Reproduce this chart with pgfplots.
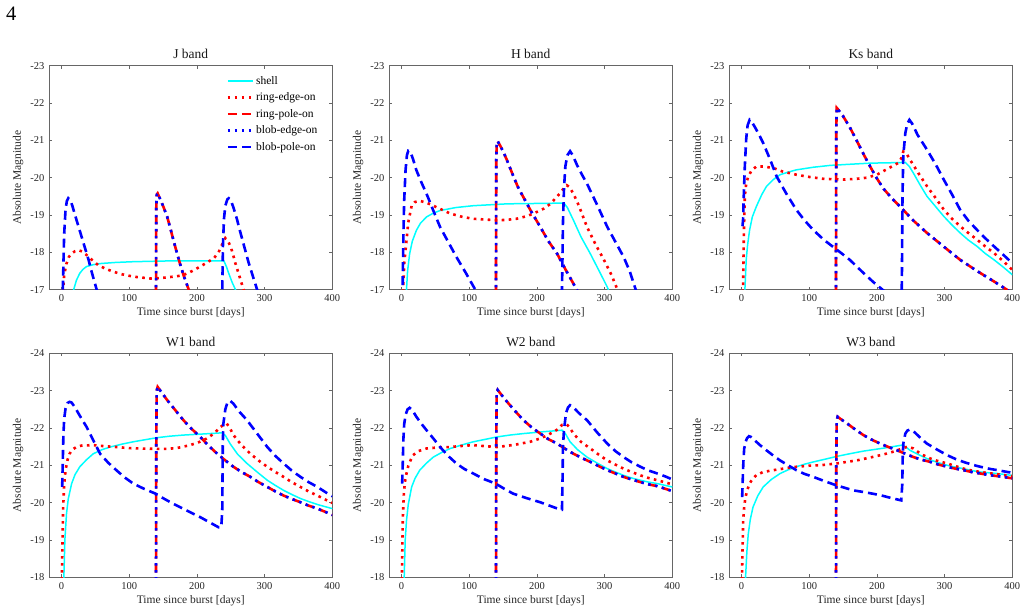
\documentclass[border=0pt]{standalone}
\usepackage{fontspec}
\setmainfont{Liberation Serif}
\usepackage{pgfplots}
\usepackage{pgfplotstable}
\pgfplotsset{compat=1.18}
\definecolor{cy}{rgb}{0,1,1}
\definecolor{rd}{rgb}{1,0,0}
\definecolor{bl}{rgb}{0,0,1}

% ---------------- J band ----------------
\pgfplotstableread[row sep=\\]{t m\\ 15 -16.5\\ 18 -17\\ 22 -17.25\\ 27 -17.44\\ 32 -17.55\\ 37 -17.62\\ 47 -17.67\\ 57 -17.7\\ 80 -17.73\\ 106 -17.75\\ 156 -17.77\\ 200 -17.77\\ 240 -17.77\\ 244 -17.6\\ 247 -17.44\\ 252 -17.2\\ 257 -17\\ 262 -16.7\\}\Jshell
\pgfplotstableread[row sep=\\]{t m\\ 1 -16\\ 2.5 -17\\ 4 -17.4\\ 7.4 -17.7\\ 11 -17.88\\ 15 -17.97\\ 20 -18.03\\ 25 -18.06\\ 31 -18.02\\ 37 -17.93\\ 45 -17.8\\ 54 -17.66\\ 65 -17.56\\ 77 -17.48\\ 90 -17.41\\ 106 -17.35\\ 131 -17.3\\ 145 -17.31\\ 156 -17.33\\ 170 -17.36\\ 180 -17.39\\ 193 -17.5\\ 205 -17.62\\ 215 -17.73\\ 225 -17.84\\ 232 -18.0\\ 237 -18.2\\ 242 -18.38\\ 246 -18.3\\ 250 -18.15\\ 254 -17.9\\ 257 -17.7\\ 263 -17.35\\ 269 -17\\ 275 -16.6\\}\Jring
\pgfplotstableread[row sep=\\]{t m\\ 139.3 -15\\ 140 -19.2\\ 140.8 -19.55\\ 142 -19.58\\ 146 -19.42\\ 151 -19.2\\ 156 -18.96\\ 160 -18.7\\ 165 -18.35\\ 170 -18.02\\ 175 -17.7\\ 181 -17.35\\ 188 -17\\ 195 -16.6\\}\Jpole
\pgfplotstableread[row sep=\\]{t m\\ 1 -15.5\\ 2 -17\\ 3 -17.8\\ 4 -18.5\\ 6 -19.15\\ 8 -19.38\\ 10 -19.45\\ 13 -19.4\\ 16 -19.25\\ 20 -19.0\\ 25 -18.7\\ 30 -18.4\\ 35 -18.1\\ 40 -17.8\\ 45 -17.45\\ 52 -17\\ 58 -16.6\\ 236 -16\\ 237.5 -17\\ 238.5 -18.2\\ 240 -18.9\\ 242 -19.25\\ 245 -19.42\\ 247 -19.45\\ 250 -19.4\\ 254 -19.2\\ 259 -18.9\\ 264 -18.55\\ 270 -18.15\\ 276 -17.75\\ 282 -17.4\\ 289 -17\\ 295 -16.6\\}\Jblob

% ---------------- H band ----------------
\pgfplotstableread[row sep=\\]{t m\\ 6 -16.5\\ 7.4 -17\\ 9 -17.5\\ 12 -17.96\\ 16 -18.3\\ 22 -18.59\\ 28 -18.78\\ 37 -18.95\\ 47 -19.05\\ 57 -19.12\\ 80 -19.2\\ 106 -19.25\\ 156 -19.3\\ 200 -19.31\\ 240 -19.32\\ 245 -19.2\\ 254 -18.86\\ 265 -18.42\\ 279 -17.96\\ 292 -17.5\\ 304 -17.07\\ 310 -16.8\\}\Hshell
\pgfplotstableread[row sep=\\]{t m\\ 1.5 -16\\ 2.5 -17\\ 4 -17.7\\ 7.4 -18.32\\ 10 -18.8\\ 15 -19.25\\ 20 -19.35\\ 27 -19.38\\ 37 -19.33\\ 47 -19.25\\ 60 -19.14\\ 72 -19.04\\ 90 -18.95\\ 106 -18.9\\ 141 -18.86\\ 155 -18.87\\ 170 -18.9\\ 185 -18.97\\ 195 -19.04\\ 210 -19.17\\ 220 -19.3\\ 230 -19.5\\ 235 -19.6\\ 241 -19.75\\ 244 -19.8\\ 248 -19.75\\ 254 -19.57\\ 262 -19.25\\ 274 -18.68\\ 287 -18.2\\ 299 -17.8\\ 310 -17.4\\ 319 -17\\ 325 -16.7\\}\Hring
\pgfplotstableread[row sep=\\]{t m\\ 139.3 -15\\ 140 -20.5\\ 140.8 -20.95\\ 142 -20.98\\ 146 -20.85\\ 151 -20.67\\ 156 -20.46\\ 165 -20.05\\ 172 -19.75\\ 180 -19.48\\ 192 -19.08\\ 205 -18.68\\ 217 -18.3\\ 230 -17.96\\ 242 -17.55\\ 254 -17.16\\ 259 -17\\ 265 -16.8\\}\Hpole
\pgfplotstableread[row sep=\\]{t m\\ 1 -16\\ 2 -17.5\\ 3 -18.6\\ 4 -19.4\\ 6 -20.2\\ 8 -20.6\\ 10 -20.72\\ 13 -20.7\\ 17 -20.5\\ 22 -20.2\\ 30 -19.85\\ 37 -19.57\\ 47 -19.12\\ 57 -18.68\\ 69 -18.28\\ 81 -17.88\\ 95 -17.45\\ 109 -17\\ 120 -16.6\\ 236 -16\\ 237.5 -17.5\\ 238.5 -18.8\\ 240 -19.7\\ 242 -20.3\\ 245 -20.6\\ 249 -20.71\\ 253 -20.6\\ 259 -20.35\\ 266 -20.1\\ 274 -19.84\\ 289 -19.27\\ 304 -18.68\\ 316 -18.28\\ 328 -17.88\\ 337 -17.5\\ 346 -17\\ 352 -16.7\\}\Hblob

% ---------------- Ks band ----------------
\pgfplotstableread[row sep=\\]{t m\\ 4 -16.5\\ 5 -17\\ 7 -17.8\\ 9 -18.2\\ 12 -18.6\\ 16 -18.95\\ 22 -19.23\\ 30 -19.55\\ 37 -19.77\\ 47 -19.95\\ 57 -20.08\\ 69 -20.15\\ 81 -20.21\\ 106 -20.28\\ 131 -20.33\\ 160 -20.36\\ 190 -20.39\\ 220 -20.4\\ 242 -20.41\\ 248 -20.3\\ 254 -20.12\\ 264 -19.8\\ 274 -19.5\\ 287 -19.22\\ 299 -18.96\\ 311 -18.73\\ 323 -18.52\\ 335 -18.33\\ 348 -18.16\\ 360 -17.97\\ 373 -17.8\\ 387 -17.6\\ 400 -17.4\\}\Kshell
\pgfplotstableread[row sep=\\]{t m\\ 1.5 -16\\ 2.4 -17.1\\ 3.5 -18.5\\ 4.9 -19.5\\ 7 -19.85\\ 10 -20.03\\ 15 -20.2\\ 22 -20.3\\ 32 -20.3\\ 47 -20.26\\ 60 -20.17\\ 81 -20.08\\ 100 -20.02\\ 121 -19.97\\ 150 -19.95\\ 170 -19.97\\ 185 -20.0\\ 200 -20.08\\ 210 -20.18\\ 222 -20.3\\ 232 -20.4\\ 236 -20.52\\ 239 -20.7\\ 243 -20.67\\ 249 -20.48\\ 261 -20.13\\ 274 -19.77\\ 287 -19.45\\ 299 -19.14\\ 311 -18.9\\ 323 -18.7\\ 335 -18.52\\ 348 -18.34\\ 360 -18.16\\ 373 -17.98\\ 387 -17.76\\ 400 -17.53\\}\Kring
\pgfplotstableread[row sep=\\]{t m\\ 139.3 -15\\ 140 -21.3\\ 140.7 -21.87\\ 143 -21.82\\ 150 -21.65\\ 160 -21.35\\ 170 -21.0\\ 180 -20.64\\ 190 -20.3\\ 200 -19.98\\ 210 -19.7\\ 222 -19.45\\ 234 -19.23\\ 254 -18.85\\ 274 -18.52\\ 299 -18.15\\ 323 -17.8\\ 348 -17.5\\ 373 -17.22\\ 392 -17.0\\ 400 -16.9\\}\Kpole
\pgfplotstableread[row sep=\\]{t m\\ 1.5 -18.7\\ 2.4 -18.9\\ 3.5 -19.6\\ 4.9 -20.3\\ 7 -21.05\\ 9 -21.4\\ 12 -21.55\\ 15 -21.5\\ 20 -21.35\\ 26 -21.15\\ 32 -20.93\\ 42 -20.5\\ 52 -20.03\\ 66 -19.58\\ 81 -19.14\\ 93 -18.86\\ 106 -18.6\\ 122 -18.33\\ 141 -18.07\\ 160 -17.8\\ 180 -17.45\\ 195 -17.2\\ 205 -17.05\\ 215 -16.9\\ 236 -16\\ 237 -17.5\\ 237.8 -19.5\\ 239 -20.6\\ 242 -21.2\\ 245 -21.45\\ 248 -21.55\\ 252 -21.45\\ 260 -21.15\\ 274 -20.75\\ 287 -20.35\\ 299 -19.94\\ 311 -19.55\\ 323 -19.14\\ 335 -18.85\\ 348 -18.6\\ 360 -18.38\\ 373 -18.16\\ 387 -17.93\\ 400 -17.71\\}\Kblob

% ---------------- W1 band ----------------
\pgfplotstableread[row sep=\\]{t m\\ 2.5 -17.5\\ 3.5 -18\\ 5 -19.0\\ 7.4 -19.7\\ 10 -20.1\\ 15 -20.51\\ 20 -20.75\\ 27 -20.96\\ 37 -21.15\\ 47 -21.31\\ 60 -21.42\\ 72 -21.49\\ 90 -21.57\\ 106 -21.63\\ 125 -21.69\\ 141 -21.74\\ 160 -21.78\\ 180 -21.81\\ 210 -21.84\\ 237 -21.87\\ 242 -21.8\\ 249 -21.58\\ 260 -21.3\\ 274 -21.05\\ 289 -20.82\\ 304 -20.6\\ 316 -20.46\\ 328 -20.33\\ 340 -20.22\\ 353 -20.11\\ 365 -20.03\\ 378 -19.95\\ 390 -19.89\\ 400 -19.84\\}\Ashell
\pgfplotstableread[row sep=\\]{t m\\ 0 -17\\ 1 -18.5\\ 2.5 -19.88\\ 4 -20.5\\ 6 -20.87\\ 9 -21.15\\ 12 -21.31\\ 16 -21.42\\ 22 -21.49\\ 30 -21.53\\ 47 -21.54\\ 65 -21.51\\ 81 -21.49\\ 100 -21.46\\ 116 -21.45\\ 141 -21.44\\ 155 -21.44\\ 170 -21.46\\ 180 -21.5\\ 190 -21.54\\ 203 -21.62\\ 215 -21.72\\ 225 -21.85\\ 235 -22.03\\ 241 -22.1\\ 244 -22.12\\ 248 -22.02\\ 254 -21.81\\ 265 -21.56\\ 279 -21.31\\ 291 -21.13\\ 304 -20.96\\ 316 -20.82\\ 328 -20.69\\ 340 -20.55\\ 353 -20.42\\ 365 -20.3\\ 378 -20.19\\ 390 -20.08\\ 400 -19.99\\}\Aring
\pgfplotstableread[row sep=\\]{t m\\ 139.5 -17\\ 140 -21.5\\ 140.6 -23.0\\ 142 -23.1\\ 148 -22.95\\ 156 -22.75\\ 168 -22.48\\ 180 -22.21\\ 192 -21.98\\ 205 -21.76\\ 217 -21.53\\ 230 -21.31\\ 242 -21.13\\ 254 -20.96\\ 266 -20.82\\ 279 -20.69\\ 291 -20.55\\ 304 -20.42\\ 316 -20.3\\ 328 -20.19\\ 340 -20.1\\ 353 -20.01\\ 365 -19.92\\ 378 -19.84\\ 390 -19.75\\ 400 -19.67\\}\Apole
\pgfplotstableread[row sep=\\]{t m\\ 1 -20.42\\ 1.8 -21.0\\ 2.8 -21.8\\ 4 -22.25\\ 6 -22.52\\ 9 -22.67\\ 12 -22.7\\ 15 -22.68\\ 20 -22.55\\ 27 -22.33\\ 37 -22.03\\ 47 -21.67\\ 57 -21.31\\ 69 -21.07\\ 81 -20.87\\ 93 -20.68\\ 106 -20.51\\ 122 -20.37\\ 139 -20.24\\ 152 -20.1\\ 165 -19.97\\ 185 -19.79\\ 205 -19.61\\ 220 -19.46\\ 232 -19.34\\ 236 -19.34\\ 237.5 -19.8\\ 238.2 -21.5\\ 239 -22.1\\ 242 -22.5\\ 245 -22.68\\ 249 -22.73\\ 254 -22.65\\ 262 -22.45\\ 274 -22.21\\ 289 -21.85\\ 304 -21.49\\ 316 -21.25\\ 328 -21.05\\ 340 -20.86\\ 353 -20.69\\ 365 -20.55\\ 378 -20.42\\ 390 -20.28\\ 400 -20.17\\}\Ablob

% ---------------- W2 band ----------------
\pgfplotstableread[row sep=\\]{t m\\ 3 -17.5\\ 4 -18\\ 5.5 -19.0\\ 7.4 -19.52\\ 10 -19.95\\ 15 -20.42\\ 20 -20.65\\ 27 -20.87\\ 37 -21.06\\ 47 -21.22\\ 60 -21.35\\ 72 -21.45\\ 90 -21.55\\ 106 -21.63\\ 125 -21.7\\ 141 -21.76\\ 160 -21.81\\ 180 -21.85\\ 210 -21.9\\ 237 -21.94\\ 242 -21.85\\ 249 -21.63\\ 260 -21.42\\ 274 -21.22\\ 289 -21.06\\ 304 -20.91\\ 316 -20.82\\ 328 -20.73\\ 340 -20.66\\ 353 -20.6\\ 365 -20.55\\ 378 -20.51\\ 390 -20.46\\ 400 -20.42\\}\Bshell
\pgfplotstableread[row sep=\\]{t m\\ 0 -17\\ 1 -18.5\\ 2 -19.6\\ 3.5 -20.24\\ 5 -20.55\\ 7.4 -20.78\\ 10 -20.98\\ 13 -21.12\\ 17 -21.27\\ 25 -21.38\\ 37 -21.45\\ 55 -21.48\\ 72 -21.49\\ 90 -21.52\\ 106 -21.54\\ 125 -21.51\\ 141 -21.49\\ 155 -21.52\\ 170 -21.56\\ 190 -21.63\\ 205 -21.72\\ 215 -21.8\\ 225 -21.9\\ 232 -21.98\\ 237 -22.08\\ 244 -22.1\\ 248 -22.02\\ 254 -21.85\\ 265 -21.63\\ 279 -21.45\\ 291 -21.29\\ 304 -21.13\\ 316 -21.02\\ 328 -20.91\\ 340 -20.82\\ 353 -20.73\\ 365 -20.66\\ 378 -20.6\\ 390 -20.54\\ 400 -20.49\\}\Bring
\pgfplotstableread[row sep=\\]{t m\\ 139.5 -17\\ 140 -21.5\\ 140.6 -22.95\\ 142 -23.02\\ 148 -22.88\\ 156 -22.7\\ 168 -22.45\\ 180 -22.21\\ 192 -22.02\\ 205 -21.85\\ 217 -21.7\\ 230 -21.58\\ 242 -21.44\\ 254 -21.31\\ 266 -21.2\\ 279 -21.09\\ 291 -20.98\\ 304 -20.87\\ 316 -20.78\\ 328 -20.69\\ 340 -20.62\\ 353 -20.55\\ 365 -20.49\\ 378 -20.44\\ 390 -20.37\\ 400 -20.31\\}\Bpole
\pgfplotstableread[row sep=\\]{t m\\ 1 -20.51\\ 1.8 -21.0\\ 2.8 -21.7\\ 4 -22.1\\ 6 -22.35\\ 9 -22.5\\ 12 -22.54\\ 16 -22.48\\ 22 -22.3\\ 30 -22.1\\ 37 -21.94\\ 47 -21.72\\ 57 -21.49\\ 69 -21.25\\ 81 -21.05\\ 93 -20.9\\ 106 -20.78\\ 122 -20.63\\ 139 -20.51\\ 152 -20.37\\ 165 -20.24\\ 185 -20.12\\ 205 -20.01\\ 220 -19.91\\ 235 -19.81\\ 237 -19.81\\ 237.8 -20.5\\ 238.5 -21.5\\ 240 -21.94\\ 243 -22.4\\ 246 -22.55\\ 249 -22.61\\ 254 -22.55\\ 262 -22.4\\ 274 -22.21\\ 289 -21.88\\ 304 -21.58\\ 316 -21.38\\ 328 -21.22\\ 340 -21.08\\ 353 -20.96\\ 365 -20.86\\ 378 -20.78\\ 390 -20.7\\ 400 -20.62\\}\Bblob

% ---------------- W3 band ----------------
\pgfplotstableread[row sep=\\]{t m\\ 5 -17.5\\ 6 -18\\ 8 -18.7\\ 10 -19.16\\ 13 -19.55\\ 17 -19.88\\ 24 -20.18\\ 32 -20.42\\ 44 -20.62\\ 57 -20.78\\ 69 -20.88\\ 81 -20.96\\ 93 -21.03\\ 106 -21.09\\ 125 -21.17\\ 141 -21.24\\ 160 -21.31\\ 180 -21.38\\ 210 -21.46\\ 237 -21.54\\ 242 -21.5\\ 249 -21.4\\ 260 -21.3\\ 274 -21.18\\ 289 -21.08\\ 304 -21.0\\ 316 -20.95\\ 328 -20.91\\ 340 -20.86\\ 353 -20.82\\ 365 -20.8\\ 378 -20.78\\ 390 -20.75\\ 400 -20.73\\}\Cshell
\pgfplotstableread[row sep=\\]{t m\\ 0 -17\\ 1 -18.3\\ 2.5 -19.52\\ 4 -19.9\\ 6 -20.15\\ 9 -20.36\\ 12 -20.51\\ 16 -20.63\\ 22 -20.74\\ 32 -20.82\\ 47 -20.87\\ 65 -20.92\\ 81 -20.96\\ 100 -20.99\\ 116 -21.0\\ 141 -21.05\\ 155 -21.09\\ 170 -21.13\\ 188 -21.2\\ 205 -21.27\\ 218 -21.33\\ 230 -21.4\\ 240 -21.47\\ 246 -21.5\\ 254 -21.45\\ 265 -21.3\\ 279 -21.18\\ 291 -21.11\\ 304 -21.05\\ 316 -20.98\\ 328 -20.91\\ 340 -20.86\\ 353 -20.82\\ 365 -20.79\\ 378 -20.76\\ 390 -20.73\\ 400 -20.71\\}\Cring
\pgfplotstableread[row sep=\\]{t m\\ 139.5 -17\\ 140 -21.0\\ 140.6 -22.2\\ 142 -22.3\\ 148 -22.22\\ 156 -22.12\\ 168 -21.96\\ 180 -21.81\\ 192 -21.69\\ 205 -21.58\\ 217 -21.49\\ 230 -21.4\\ 242 -21.31\\ 254 -21.22\\ 266 -21.15\\ 279 -21.09\\ 291 -21.02\\ 304 -20.96\\ 316 -20.91\\ 328 -20.87\\ 340 -20.82\\ 353 -20.78\\ 365 -20.74\\ 378 -20.71\\ 390 -20.68\\ 400 -20.65\\}\Cpole
\pgfplotstableread[row sep=\\]{t m\\ 1 -20.15\\ 1.8 -20.6\\ 2.8 -21.1\\ 4 -21.45\\ 6 -21.62\\ 8 -21.72\\ 11 -21.78\\ 14 -21.76\\ 20 -21.66\\ 28 -21.53\\ 37 -21.4\\ 47 -21.26\\ 57 -21.13\\ 69 -21.0\\ 81 -20.87\\ 93 -20.77\\ 106 -20.69\\ 122 -20.58\\ 139 -20.47\\ 152 -20.4\\ 165 -20.33\\ 185 -20.27\\ 205 -20.2\\ 222 -20.12\\ 236 -20.06\\ 237.5 -20.5\\ 238.2 -21.3\\ 239 -21.58\\ 242 -21.85\\ 245 -21.93\\ 249 -21.96\\ 256 -21.88\\ 265 -21.72\\ 274 -21.58\\ 289 -21.42\\ 304 -21.27\\ 316 -21.17\\ 328 -21.09\\ 340 -21.02\\ 353 -20.96\\ 365 -20.91\\ 378 -20.87\\ 390 -20.83\\ 400 -20.8\\}\Cblob

\pgfplotsset{
  every axis title shift=0pt,
  panel/.style={
    scale only axis, width=283pt, height=224pt,
    xmin=-18, xmax=400, y dir=reverse,
    xtick={0,100,200,300,400},
    tick align=inside, major tick length=3pt,
    axis line style={black!60, line width=0.8pt},
    every tick/.style={black!60, line width=0.6pt},
    tick label style={font=\fontsize{10.5}{12}\selectfont, text=black!85},
    xticklabel style={yshift=-1.5pt},
    yticklabel style={xshift=-1.5pt},
    /pgf/number format/assume math mode=true,
    xlabel={Time since burst [days]},
    ylabel={Absolute Magnitude},
    label style={font=\fontsize{11.5}{13}\selectfont, text=black!85},
    xlabel style={at={(axis description cs:0.5,-0.105)}, anchor=center},
    ylabel style={at={(axis description cs:-0.11,0.5)}, anchor=center},
    title style={at={(axis description cs:0.5,1.052)}, anchor=center, font=\fontsize{13.5}{15}\selectfont, text=black!90},
    anchor=north west, clip=true, no markers,
  },
  toprow/.style={panel, ymin=-23, ymax=-17, ytick={-23,-22,...,-17}},
  botrow/.style={panel, ymin=-24, ymax=-18, ytick={-24,-23,...,-18}},
  shellS/.style={cy, line width=1.5pt, solid},
  redDot/.style={rd, line width=2.6pt, line cap=butt, dash pattern=on 2.6pt off 4.4pt},
  redDash/.style={rd, line width=2.6pt, line cap=butt, dash pattern=on 9pt off 5pt},
  blueDot/.style={bl, line width=2.6pt, line cap=butt, dash pattern=on 2.6pt off 4.4pt},
  blueDash/.style={bl, line width=2.6pt, line cap=butt, dash pattern=on 9pt off 5pt},
}

\begin{document}
\begin{tikzpicture}
\useasboundingbox (0,0) rectangle (1027pt,-613pt);
\node[anchor=base west, inner sep=0pt, font=\fontsize{20.5}{22}\selectfont] at (6pt,-20pt) {4};

% J band
\begin{axis}[toprow, at={(49.3pt,-65.7pt)}, title={J band},
  legend style={draw=none, fill=none, at={(axis description cs:0.615,0.972)}, anchor=north west,
    font=\fontsize{11.5}{13}\selectfont, row sep=3pt, legend cell align=left},
  legend image code/.code={\draw[#1] (0pt,0pt) -- (25pt,0pt);}]
\addplot[shellS] table {\Jshell};
\addplot[redDot] table {\Jring};
\addplot[redDash] table {\Jpole};
\addplot[blueDot] table {\Jpole};
\addplot[blueDash] table {\Jblob};
\legend{shell, ring-edge-on, ring-pole-on, blob-edge-on, blob-pole-on}
\end{axis}

% H band
\begin{axis}[toprow, at={(389.3pt,-65.7pt)}, title={H band}]
\addplot[shellS] table {\Hshell};
\addplot[redDot] table {\Hring};
\addplot[redDash] table {\Hpole};
\addplot[blueDot] table {\Hpole};
\addplot[blueDash] table {\Hblob};
\end{axis}

% Ks band
\begin{axis}[toprow, at={(729.3pt,-65.7pt)}, title={Ks band}]
\addplot[shellS] table {\Kshell};
\addplot[redDot] table {\Kring};
\addplot[redDash] table {\Kpole};
\addplot[blueDot] table {\Kpole};
\addplot[blueDash] table {\Kblob};
\end{axis}

% W1 band
\begin{axis}[botrow, at={(49.3pt,-353.3pt)}, title={W1 band}]
\addplot[shellS] table {\Ashell};
\addplot[redDot] table {\Aring};
\addplot[redDash] table {\Apole};
\addplot[blueDot] table {\Apole};
\addplot[blueDash] table {\Ablob};
\end{axis}

% W2 band
\begin{axis}[botrow, at={(389.3pt,-353.3pt)}, title={W2 band}]
\addplot[shellS] table {\Bshell};
\addplot[redDot] table {\Bring};
\addplot[redDash] table {\Bpole};
\addplot[blueDot] table {\Bpole};
\addplot[blueDash] table {\Bblob};
\end{axis}

% W3 band
\begin{axis}[botrow, at={(729.3pt,-353.3pt)}, title={W3 band}]
\addplot[shellS] table {\Cshell};
\addplot[redDot] table {\Cring};
\addplot[redDash] table {\Cpole};
\addplot[blueDot] table {\Cpole};
\addplot[blueDash] table {\Cblob};
\end{axis}
\end{tikzpicture}
\end{document}
